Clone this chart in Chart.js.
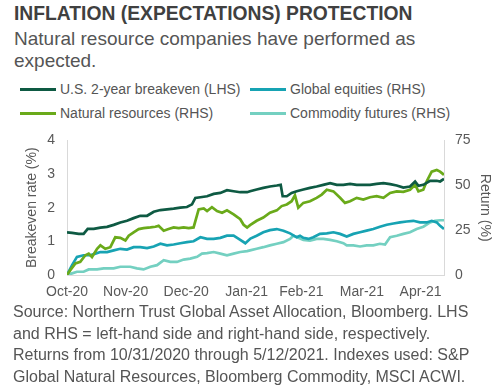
<!DOCTYPE html>
<html lang="en">
<head>
  <meta charset="UTF-8">
  <title>Inflation (Expectations) Protection</title>
  <script src="https://cdn.jsdelivr.net/npm/chart.js"></script>
  <style>
    body {
      margin: 0;
      width: 500px;
      height: 387px;
      background: #ffffff;
      font-family: "Liberation Sans", Arial, sans-serif;
      position: relative;
      overflow: hidden;
    }
    .title {
      position: absolute; left: 14px; top: 3px;
      font-size: 19.3px; line-height: 22px; font-weight: bold; color: #404040;
      white-space: nowrap;
    }
    .subtitle {
      position: absolute; left: 14px; top: 28px;
      font-size: 19px; line-height: 22px; color: #555555;
    }
    .legend { position: absolute; left: 0; top: 80px; width: 500px; height: 40px; }
    .legend .item {
      position: absolute; font-size: 14px; line-height: 16px; color: #555555; white-space: nowrap;
    }
    .legend .swatch {
      display: inline-block; width: 36px; height: 3px; vertical-align: middle;
      margin-right: 4px; position: relative; top: -1px;
    }
    #chartWrap { position: absolute; left: 0; top: 120px; width: 500px; height: 186px; }
    .source {
      position: absolute; left: 13px; top: 301px;
      font-size: 16px; line-height: 21.7px; color: #555555; white-space: nowrap;
    }
  </style>
</head>
<body>
  <div class="title">INFLATION (EXPECTATIONS) PROTECTION</div>
  <div class="subtitle">Natural resource companies have performed as<br>expected.</div>
  <div class="legend" id="legend"></div>
  <div id="chartWrap"><canvas id="chart" width="500" height="186"></canvas></div>
  <div class="source">Source: Northern Trust Global Asset Allocation, Bloomberg. LHS<br>and RHS = left-hand side and right-hand side, respectively.<br>Returns from 10/31/2020 through 5/12/2021. Indexes used: S&amp;P<br>Global Natural Resources, Bloomberg Commodity, MSCI ACWI.</div>

  <script>
    // x values are days after 10/31/2020
    const monthDays = [0, 30, 61, 92, 120, 151, 181];
    const monthLabels = ['Oct-20', 'Nov-20', 'Dec-20', 'Jan-21', 'Feb-21', 'Mar-21', 'Apr-21'];
    const leftTicks = [0, 1, 2, 3, 4];
    const rightTicks = [0, 25, 50, 75];

    // U.S. 2-year breakeven (%), left axis
    const breakevenDays = [0, 2.6, 6, 8.5, 10.6, 13.7, 17.1, 20.5, 23.9, 27.3, 30.7, 34.1, 37.5, 41, 44.4, 47.8, 51.2, 54.6, 58, 61.4, 64, 65.7, 68.3, 71.7, 75.1, 78.5, 81.9, 85.3, 88.7, 92.2, 93.7, 97.1, 100.5, 103.9, 107.4, 109.4, 110.4, 112.5, 115, 117.6, 121, 124.4, 127.8, 131.2, 134.7, 138.1, 141.5, 144.9, 148.3, 151.7, 155.1, 158.5, 162, 165.4, 168.8, 172.2, 175.6, 178.2, 179.9, 182.4, 185.9, 189.3, 191, 193];
    const breakevenVals = [1.27, 1.25, 1.22, 1.22, 1.37, 1.37, 1.41, 1.43, 1.49, 1.56, 1.61, 1.69, 1.76, 1.76, 1.88, 1.93, 1.95, 1.97, 2.0, 2.02, 2.1, 2.29, 2.31, 2.34, 2.41, 2.44, 2.52, 2.49, 2.46, 2.46, 2.49, 2.54, 2.59, 2.63, 2.66, 2.68, 2.34, 2.34, 2.44, 2.49, 2.54, 2.59, 2.63, 2.68, 2.73, 2.68, 2.68, 2.71, 2.68, 2.68, 2.68, 2.71, 2.73, 2.7, 2.66, 2.6, 2.63, 2.78, 2.65, 2.68, 2.8, 2.8, 2.78, 2.86];

    // Global equities return (%), right axis
    const equitiesDays = [0, 2.6, 5.1, 8.5, 11.9, 14.5, 17.1, 20.5, 23.9, 27.3, 30.7, 34.1, 37.5, 41, 44.4, 47.8, 51.2, 54.6, 58, 61.4, 64.8, 68.3, 71.7, 75.1, 78.5, 81.9, 85.3, 88.7, 91.3, 93.9, 97.1, 100.5, 103.9, 107.4, 110.8, 114.2, 117.6, 119.3, 121, 123.6, 126.1, 129.5, 133, 136.4, 139.8, 143.2, 146.6, 150, 153.4, 156.8, 160.2, 163.7, 167.1, 170.5, 173.9, 177.3, 180.7, 184.1, 186.7, 189.3, 191, 193];
    const equitiesVals = [0, 5.5, 10.1, 11, 11, 11.9, 12.8, 12.8, 13.7, 14.6, 14.2, 15.5, 15.5, 15, 15.9, 17.4, 16.5, 17, 17.7, 18.3, 18.8, 21, 20.1, 20.1, 20.7, 21.9, 21.9, 19.6, 17.7, 20.3, 21.9, 23.8, 25, 25.6, 24.7, 23.2, 21, 21.9, 20.7, 20.1, 21, 22.9, 23.2, 23.8, 22.9, 21.4, 22.9, 23.8, 24.7, 25.6, 26.9, 28, 28.7, 29.3, 29.8, 30.2, 29.3, 29.3, 30.2, 29.3, 27.4, 25.6];

    // Natural resources return (%), right axis
    const resourcesDays = [0, 1.7, 4.3, 6.8, 9.4, 11.1, 12.8, 15.4, 17.1, 19.6, 22.2, 24.7, 27.3, 29.9, 31.6, 34.1, 36.7, 39.2, 42.7, 45.2, 46.9, 49.5, 52, 54.6, 57.2, 59.7, 62.3, 64.8, 67.4, 70, 71.7, 74.2, 76.8, 79.4, 81.9, 85.3, 88.7, 90.4, 92.2, 93.7, 97.1, 100.5, 103.9, 107.4, 109.9, 112.5, 115, 116.7, 118.4, 121, 124.4, 127.8, 130.4, 133, 136.4, 139.8, 142.3, 144.9, 148.3, 151.7, 155.1, 158.5, 162, 165.4, 168.8, 172.2, 175.6, 178.2, 179.9, 182.4, 184.1, 186.7, 189.3, 191, 193];
    const resourcesVals = [0, 2.7, 6.4, 7.3, 11, 11.9, 10, 14.6, 16.5, 14.6, 15.5, 21, 20.7, 19.2, 21.9, 23.8, 25.6, 26.1, 26.5, 26.9, 27.4, 24.7, 25.6, 26.5, 26.1, 26.5, 26.1, 26.5, 36.6, 37.1, 35.6, 37.8, 35.6, 34.7, 36, 33.8, 31.1, 28, 26.5, 27.8, 30.2, 32, 34.7, 36, 38.4, 39.3, 41.1, 44.4, 37.5, 40.2, 41.1, 43, 44.8, 47.5, 46.6, 43, 40.2, 41.1, 43, 42, 43.3, 43.9, 43, 45.7, 46.6, 46.3, 47.5, 50.3, 46.6, 47.5, 52.1, 57.6, 58.5, 57.6, 55.8];

    // Commodity futures return (%), right axis
    const commodityDays = [0, 2.6, 5.1, 8.5, 11.1, 15.4, 18.8, 23.9, 27.3, 32.4, 35.8, 39.2, 42.7, 46.1, 49.5, 52.9, 56.3, 59.7, 63.1, 66.6, 69.1, 71.7, 75.1, 78.5, 81.9, 85.3, 88.7, 92.2, 93.7, 97.1, 100.5, 103.9, 107.4, 110.8, 114.2, 115.9, 118.4, 121, 124.4, 127.8, 131.2, 134.7, 138.1, 141.5, 143.2, 146.6, 150, 153.4, 156.8, 160.2, 162.8, 165.4, 168.8, 172.2, 175.6, 179, 182.4, 185.9, 188.4, 191, 193];
    const commodityVals = [0, 0.9, 1.8, 1.8, 3.1, 3.1, 3.7, 3.7, 4.6, 4.6, 3.7, 3.1, 4.6, 5.5, 8.2, 7.3, 7.3, 8.6, 9.1, 10.1, 11.9, 12.2, 12.8, 11.9, 11, 11.9, 12.8, 13.3, 13.7, 14.6, 15.5, 16.5, 17.4, 18.3, 20.1, 21.9, 20.7, 19.6, 19.2, 20.1, 20.1, 19.6, 18.8, 17.7, 16.5, 16.5, 15.9, 16.5, 16.5, 17.4, 17, 21, 21.9, 22.9, 23.8, 25.6, 26.9, 29.3, 30.2, 30.5, 30.5];

    const seriesNames = ['U.S. 2-year breakeven (LHS)', 'Global equities (RHS)', 'Natural resources (RHS)', 'Commodity futures (RHS)'];
    const seriesColors = ['#0e5a43', '#17a3b3', '#6aaa1a', '#74d0c1'];

    const pts = (xs, ys) => xs.map((x, i) => ({ x: x, y: ys[i] }));

    // legend: two columns, two rows
    const legendPos = [[20, 81], [250, 81], [20, 105], [250, 105]];
    const legendEl = document.getElementById('legend');
    seriesNames.forEach((name, i) => {
      const item = document.createElement('div');
      item.className = 'item';
      item.style.left = legendPos[i][0] + 'px';
      item.style.top = (legendPos[i][1] - 80) + 'px';
      item.innerHTML = '<span class="swatch" style="background:' + seriesColors[i] + '"></span>' + name;
      legendEl.appendChild(item);
    });

    const tickFont = { family: '"Liberation Sans", Arial, sans-serif', size: 14 };
    const lineDs = (label, data, color, axis) => ({
      label: label, data: data, yAxisID: axis,
      borderColor: color, backgroundColor: color,
      borderWidth: 2.7, pointRadius: 0, tension: 0, fill: false
    });

    new Chart(document.getElementById('chart'), {
      type: 'line',
      data: {
        datasets: [
          lineDs(seriesNames[0], pts(breakevenDays, breakevenVals), seriesColors[0], 'yL'),
          lineDs(seriesNames[2], pts(resourcesDays, resourcesVals), seriesColors[2], 'yR'),
          lineDs(seriesNames[1], pts(equitiesDays, equitiesVals), seriesColors[1], 'yR'),
          lineDs(seriesNames[3], pts(commodityDays, commodityVals), seriesColors[3], 'yR')
        ]
      },
      options: {
        responsive: false,
        animation: false,
        layout: { padding: { top: 18, left: 0, right: 0, bottom: 0 } },
        plugins: { legend: { display: false }, tooltip: { enabled: false } },
        scales: {
          x: {
            type: 'linear', min: 0, max: 193,
            grid: { display: false, drawTicks: false },
            border: { display: true, color: '#d9d9d9', width: 1 },
            afterBuildTicks: s => { s.ticks = monthDays.map(v => ({ value: v })); },
            afterFit: s => { s.height = 31; },
            ticks: {
              autoSkip: false, maxRotation: 0, padding: 9, color: '#595959', font: tickFont,
              callback: v => monthLabels[monthDays.indexOf(v)]
            }
          },
          yL: {
            position: 'left', min: 0, max: 4,
            grid: { display: false, drawTicks: false },
            border: { display: true, color: '#d9d9d9', width: 1 },
            afterBuildTicks: s => { s.ticks = leftTicks.map(v => ({ value: v })); },
            afterFit: s => { s.width = 67; },
            ticks: { padding: 12, color: '#595959', font: tickFont },
            title: {
              display: true, text: 'Breakeven rate (%)', color: '#595959', font: tickFont,
              padding: { top: 24, bottom: 0 }
            }
          },
          yR: {
            position: 'right', min: 0, max: 75,
            grid: { display: false, drawTicks: false },
            border: { display: true, color: '#d9d9d9', width: 1 },
            afterBuildTicks: s => { s.ticks = rightTicks.map(v => ({ value: v })); },
            afterFit: s => { s.width = 56; },
            ticks: { padding: 11, color: '#595959', font: tickFont },
            title: {
              display: true, text: 'Return (%)', color: '#595959', font: tickFont,
              padding: { top: 7, bottom: 0 }
            }
          }
        }
      }
    });
  </script>
</body>
</html>
